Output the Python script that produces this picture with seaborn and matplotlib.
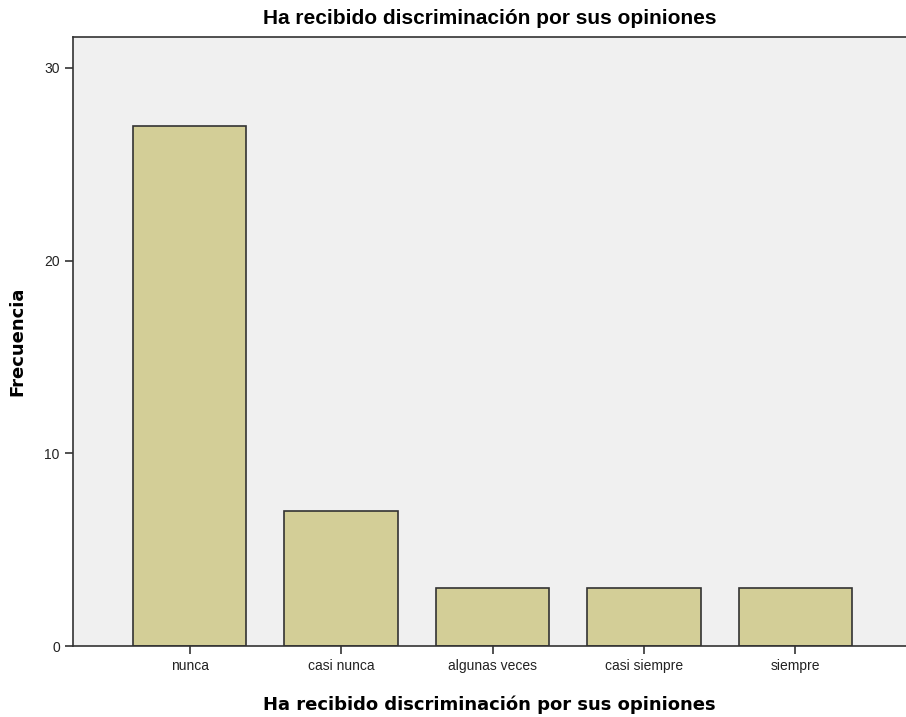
import matplotlib
matplotlib.use("Agg")
import matplotlib.pyplot as plt
import seaborn as sns
import pandas as pd

categories = ["nunca", "casi nunca", "algunas veces", "casi siempre", "siempre"]
frecuencias = [27, 7, 3, 3, 3]

titulo = "Ha recibido discriminación por sus opiniones"

sns.set_style("white")
plt.rcParams["font.family"] = ["Liberation Sans", "DejaVu Sans"]

df = pd.DataFrame({"categoria": categories, "frecuencia": frecuencias})

fig = plt.figure(figsize=(9.06, 7.17), dpi=100)
ax = fig.add_axes([73 / 906, 71 / 717, 1 - 73 / 906, (646 - 37) / 717])
ax.set_facecolor("#f0f0f0")

sns.barplot(data=df, x="categoria", y="frecuencia", color="#d3ce97",
            edgecolor="#333333", linewidth=1.2, width=0.75, saturation=1, ax=ax)

ax.set_xlim(-0.77, 4.73)
ax.set_ylim(0, 31.6)
ax.set_yticks([0, 10, 20, 30])

for side in ["left", "top", "bottom"]:
    ax.spines[side].set_color("#333333")
    ax.spines[side].set_linewidth(1.2)
ax.spines["right"].set_visible(False)

ax.tick_params(axis="both", direction="out", length=6, width=1.2, color="#333333",
               labelsize=10, labelcolor="#222222", left=True, bottom=True)

ax.set_title(titulo, fontsize=15, fontweight="bold", color="black", pad=9)
ax.set_xlabel(titulo, fontsize=13, fontweight="bold", family="DejaVu Sans",
              color="black", labelpad=16)
ax.set_ylabel("Frecuencia", fontsize=13, fontweight="bold", family="DejaVu Sans",
              color="black", labelpad=13)

fig.savefig("out.png", dpi=100)
